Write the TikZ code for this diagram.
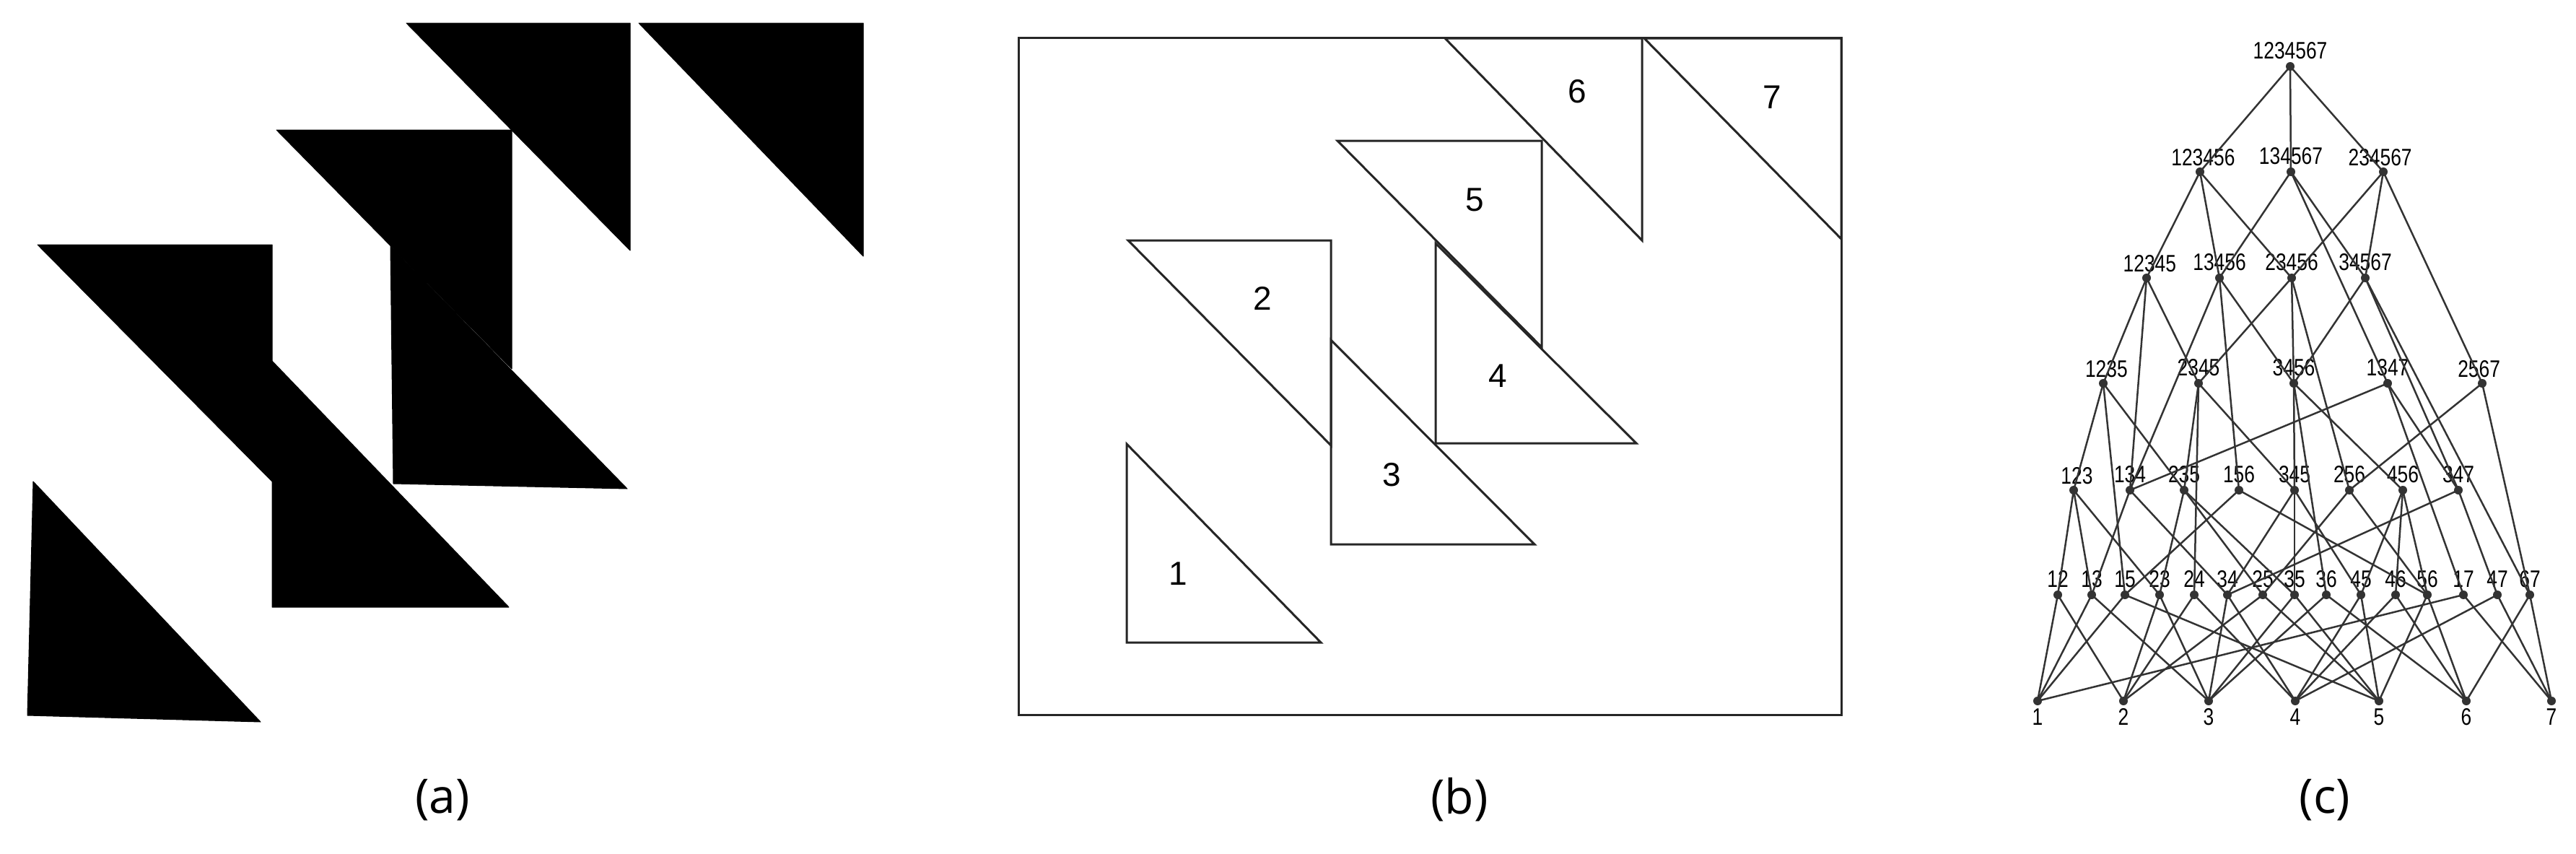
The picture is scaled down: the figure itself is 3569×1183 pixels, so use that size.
\documentclass[tikz,border=0pt]{standalone}
\usepackage{fontspec}
\setmainfont{Liberation Sans}
\newfontfamily\latf[FakeStretch=0.8]{Liberation Sans}
\newfontfamily\capf{Open Sans}
\begin{document}
\begin{tikzpicture}[x=1pt,y=-1pt,
  blk/.style={fill=black,draw=black,line width=1pt,line join=round},
  pc/.style={draw=black!85,line width=3pt,line join=miter},
  num/.style={font=\fontsize{46}{46}\selectfont},
  capt/.style={font=\capf\fontsize{66}{66}\selectfont},
  dot/.style={circle,fill=black!80,inner sep=0pt,minimum size=12pt},
  lab/.style={font=\latf\fontsize{33}{33}\selectfont,inner sep=1pt},
  edge/.style={draw=black!80,line width=2.5pt}]
\useasboundingbox (0,0) rectangle (3569,1183);
% ---------- (a)
\fill[blk] (46,667) -- (38,991) -- (361,1000) -- cycle;
\fill[blk] (52,339) -- (377,339) -- (377,667) -- cycle;
\fill[blk] (377,500) -- (377,841) -- (705,841) -- cycle;
\fill[blk] (541,341) -- (545,670) -- (869,677) -- cycle;
\fill[blk] (383,180) -- (709,180) -- (709,511) -- cycle;
\fill[blk] (563,32) -- (873,32) -- (873,347) -- cycle;
\fill[blk] (885,32) -- (1196,32) -- (1196,355) -- cycle;
\node[capt] (ca) at (613,1108) {(a)};
% ---------- (b)
\draw[pc] (1411,52) rectangle (2551,990);
\draw[pc] (1561,615) -- (1561,890) -- (1830,890) -- cycle;
\draw[pc] (1563,333) -- (1844,333) -- (1844,617) -- cycle;
\draw[pc] (1844,471) -- (1844,754) -- (2126,754) -- cycle;
\draw[pc] (1989,337) -- (1989,614) -- (2267,614) -- cycle;
\draw[pc] (1853,195) -- (2136,195) -- (2136,481) -- cycle;
\draw[pc] (2002,53) -- (2275,53) -- (2275,333) -- cycle;
\draw[pc] (2278,53) -- (2551,53) -- (2551,331) -- cycle;
\node[num] (l1) at (1632,795) {1};
\node[num] (l2) at (1749,413) {2};
\node[num] (l3) at (1928,658) {3};
\node[num] (l4) at (2075,521) {4};
\node[num] (l5) at (2043,277) {5};
\node[num] (l6) at (2185,127) {6};
\node[num] (l7) at (2455,135) {7};
\node[capt] (cb) at (2022,1108) {(b)};
% ---------- (c)
\foreach \n/\x/\y/\p in {1234567/3173/92/north,
  123456/3048/238/north east,134567/3174/238/north,234567/3302/238/north west,
  12345/2974/385/north east,13456/3075/385/north,23456/3175/385/north,34567/3277/385/north,
  1235/2914/531/north east,2345/3046/531/north,3456/3178/531/north,1347/3308/531/north,2567/3439/531/north west,
  123/2873/679/north east,134/2951/679/north,235/3026/679/north,156/3102/679/north,345/3179/679/north,256/3255/679/north,456/3329/679/north,347/3406/679/north,
  12/2851/824/north,13/2898/824/north,15/2944/824/north,23/2992/824/north,24/3040/824/north,34/3086/824/north,25/3135/824/north,35/3179/824/north,36/3223/824/north,45/3271/824/north,46/3319/824/north,56/3363/824/north,17/3413/824/north,47/3460/824/north,67/3505/824/north}
  \node[dot,label={[lab,anchor=south,yshift=3pt]\p:\n}] (n\n) at (\x,\y) {};
\foreach \n/\x in {1/2823,2/2942,3/3060,4/3180,5/3296,6/3417,7/3535}
  \node[dot,label={[lab,anchor=north,yshift=-3pt]south:\n}] (n\n) at (\x,971) {};
\foreach \a/\b in {1234567/123456,1234567/134567,1234567/234567,
  123456/12345,123456/13456,123456/23456,
  134567/13456,134567/34567,134567/1347,
  234567/23456,234567/34567,234567/2567,
  12345/1235,12345/2345,12345/134,
  13456/3456,13456/134,13456/156,
  23456/2345,23456/3456,23456/256,
  34567/3456,34567/347,34567/67,
  1235/123,1235/235,1235/15,
  2345/235,2345/345,2345/24,
  3456/345,3456/456,3456/36,
  1347/134,1347/347,1347/17,
  2567/256,2567/67,
  123/12,123/13,123/23,134/13,134/34,235/23,235/25,235/35,156/15,156/56,
  345/34,345/35,345/45,256/25,256/56,456/45,456/46,456/56,347/34,347/47,
  12/1,12/2,13/1,13/3,15/1,15/5,23/2,23/3,24/2,24/4,34/3,34/4,25/2,25/5,
  35/3,35/5,36/3,36/6,45/4,45/5,46/4,46/6,56/5,56/6,17/1,17/7,47/4,47/7,67/6,67/7}
  \draw[edge] (n\a.center) -- (n\b.center);
\node[capt] (cc) at (3221,1108) {(c)};
\end{tikzpicture}
\end{document}
